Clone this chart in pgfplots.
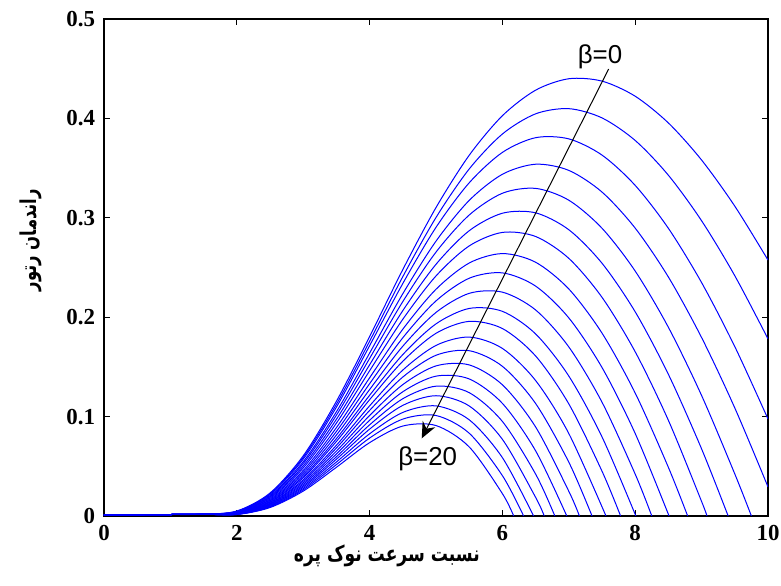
\documentclass[border=0pt]{standalone}
\usepackage{pgfplots}
\pgfplotsset{compat=1.18}
\usepackage{graphicx}
\usepackage{fontspec}
\usetikzlibrary{arrows.meta}
\setmainfont{Liberation Serif}
\newfontfamily\labelsans{Liberation Sans}
\newfontfamily\arabicfont[Script=Arabic]{DejaVu Sans}
\TeXXeTstate=1

\begin{document}
\begin{tikzpicture}
\path[use as bounding box] (-52bp,-35bp) rectangle (338.5bp,258bp);
\begin{axis}[
    scale only axis,
    width=332bp, height=248.5bp,
    xmin=0, xmax=10, ymin=0, ymax=0.5,
    xtick={0,2,4,6,8,10},
    ytick={0,0.1,0.2,0.3,0.4,0.5},
    tick align=inside,
    major tick length=3bp,
    tick style={black, line width=0.5bp},
    axis line style={line width=0.9bp},
    /pgf/number format/assume math mode=true,
    tick label style={font=\fontsize{11.5}{12}\selectfont\bfseries},
    xticklabel style={yshift=-1bp},
    yticklabel style={xshift=-1bp},
    xlabel={\scalebox{0.78}[1]{\arabicfont\bfseries\beginR نسبت سرعت نوک پره\endR}},
    ylabel={\scalebox{0.75}[1]{\arabicfont\bfseries\beginR راندمان رتور\endR}},
    label style={font=\fontsize{11}{12}\selectfont},
    xlabel style={at={(axis description cs:0.426,-0.0805)}, anchor=center},
    ylabel style={at={(axis description cs:-0.1099,0.555)}, anchor=center},
    cycle list={blue},
    every axis plot post/.append style={blue, solid, line width=0.5bp, smooth, no markers},
    clip=true,
]
% beta = 0 ... 20
\addplot coordinates {(0,0.001) (0.5,0.0012) (1,0.0015) (1.5,0.0018) (2,0.0050) (2.5,0.0231) (3,0.0605) (3.5,0.1154) (4,0.1805) (4.5,0.2479) (5,0.3103) (5.5,0.3629) (6,0.4027) (6.5,0.4284) (7,0.4399) (7.5,0.4375) (8,0.4223) (8.5,0.3954) (9,0.3581) (9.5,0.3117) (10,0.2575)};
\addplot coordinates {(0,0.001) (0.5,0.0012) (1,0.0015) (1.5,0.0018) (2,0.0048) (2.5,0.0223) (3,0.0589) (3.5,0.1124) (4,0.1758) (4.5,0.2408) (5,0.3003) (5.5,0.3491) (6,0.3843) (6.5,0.4046) (7,0.4098) (7.5,0.4005) (8,0.3778) (8.5,0.3428) (9,0.2970) (9.5,0.2417) (10,0.1782)};
\addplot coordinates {(0,0.001) (0.5,0.0012) (1,0.0015) (1.5,0.0018) (2,0.0046) (2.5,0.0216) (3,0.0572) (3.5,0.1095) (4,0.1713) (4.5,0.2339) (5,0.2904) (5.5,0.3352) (6,0.3658) (6.5,0.3806) (7,0.3794) (7.5,0.3631) (8,0.3326) (8.5,0.2894) (9,0.2348) (9.5,0.1704) (10,0.0976)};
\addplot coordinates {(0,0.001) (0.5,0.0012) (1,0.0015) (1.5,0.0018) (2,0.0043) (2.5,0.0205) (3,0.0546) (3.5,0.1048) (4,0.1639) (4.5,0.2236) (5,0.2765) (5.5,0.3175) (6,0.3438) (6.5,0.3539) (7,0.3477) (7.5,0.3259) (8,0.2896) (8.5,0.2404) (9,0.1795) (9.5,0.1087) (10,0.0293)};
\addplot coordinates {(0,0.001) (0.5,0.0012) (1,0.0015) (1.5,0.0018) (2,0.0041) (2.5,0.0196) (3,0.0527) (3.5,0.1014) (4,0.1585) (4.5,0.2157) (5,0.2655) (5.5,0.3028) (6,0.3247) (6.5,0.3296) (7,0.3177) (7.5,0.2895) (8,0.2464) (8.5,0.1898) (9,0.1212) (9.5,0.0423) (9.75,0)};
\addplot coordinates {(0,0.001) (0.5,0.0012) (1,0.0015) (1.5,0.0018) (2,0.0038) (2.5,0.0187) (3,0.0504) (3.5,0.0973) (4,0.1521) (4.5,0.2066) (5,0.2532) (5.5,0.2870) (6,0.3046) (6.5,0.3050) (7,0.2880) (7.5,0.2543) (8,0.2054) (8.5,0.1425) (9,0.0675) (9.40,0)};
\addplot coordinates {(0,0.001) (0.5,0.0012) (1,0.0015) (1.5,0.0018) (2,0.0036) (2.5,0.0178) (3,0.0483) (3.5,0.0934) (4,0.1461) (4.5,0.1979) (5,0.2415) (5.5,0.2717) (6,0.2853) (6.5,0.2812) (7,0.2592) (7.5,0.2200) (8,0.1652) (8.5,0.0962) (9,0.0146) (9.08,0)};
\addplot coordinates {(0,0.001) (0.5,0.0012) (1,0.0015) (1.5,0.0018) (2,0.0034) (2.5,0.0168) (3,0.0458) (3.5,0.0889) (4,0.1390) (4.5,0.1879) (5,0.2281) (5.5,0.2545) (6,0.2640) (6.5,0.2553) (7,0.2284) (7.5,0.1840) (8,0.1237) (8.5,0.0489) (8.79,0)};
\addplot coordinates {(0,0.001) (0.5,0.0012) (1,0.0015) (1.5,0.0018) (2,0.0032) (2.5,0.0159) (3,0.0438) (3.5,0.0851) (4,0.1331) (4.5,0.1793) (5,0.2164) (5.5,0.2392) (6,0.2446) (6.5,0.2313) (7,0.1993) (7.5,0.1494) (8,0.0830) (8.51,0)};
\addplot coordinates {(0,0.001) (0.5,0.0012) (1,0.0015) (1.5,0.0018) (2,0.0030) (2.5,0.0151) (3,0.0418) (3.5,0.0814) (4,0.1272) (4.5,0.1708) (5,0.2048) (5.5,0.2240) (6,0.2252) (6.5,0.2073) (7,0.1701) (7.5,0.1145) (8,0.0421) (8.25,0)};
\addplot coordinates {(0,0.001) (0.5,0.0012) (1,0.0015) (1.5,0.0018) (2,0.0028) (2.5,0.0143) (3,0.0399) (3.5,0.0778) (4,0.1214) (4.5,0.1624) (5,0.1933) (5.5,0.2088) (6,0.2059) (6.5,0.1832) (7,0.1408) (7.5,0.0796) (8.01,0)};
\addplot coordinates {(0,0.001) (0.5,0.0012) (1,0.0015) (1.5,0.0018) (2,0.0026) (2.5,0.0137) (3,0.0384) (3.5,0.0750) (4,0.1170) (4.5,0.1557) (5,0.1838) (5.5,0.1958) (6,0.1886) (6.5,0.1610) (7,0.1128) (7.5,0.0451) (7.78,0)};
\addplot coordinates {(0,0.001) (0.5,0.0012) (1,0.0015) (1.5,0.0018) (2,0.0025) (2.5,0.0129) (3,0.0364) (3.5,0.0712) (4,0.1108) (4.5,0.1468) (5,0.1716) (5.5,0.1800) (6,0.1686) (6.5,0.1363) (7,0.0830) (7.56,0)};
\addplot coordinates {(0,0.001) (0.5,0.0012) (1,0.0015) (1.5,0.0018) (2,0.0023) (2.5,0.0123) (3,0.0349) (3.5,0.0684) (4,0.1062) (4.5,0.1398) (5,0.1617) (5.5,0.1663) (6,0.1506) (6.5,0.1132) (7,0.0542) (7.35,0)};
\addplot coordinates {(0,0.001) (0.5,0.0012) (1,0.0015) (1.5,0.0018) (2,0.0022) (2.5,0.0117) (3,0.0333) (3.5,0.0653) (4,0.1011) (4.5,0.1322) (5,0.1510) (5.5,0.1520) (6,0.1320) (6.5,0.0896) (7,0.0249) (7.16,0)};
\addplot coordinates {(0,0.001) (0.5,0.0012) (1,0.0015) (1.5,0.0018) (2,0.0020) (2.5,0.0111) (3,0.0318) (3.5,0.0624) (4,0.0963) (4.5,0.1250) (5,0.1407) (5.5,0.1379) (6,0.1133) (6.5,0.0656) (6.97,0)};
\addplot coordinates {(0,0.001) (0.5,0.0012) (1,0.0015) (1.5,0.0018) (2,0.0019) (2.5,0.0106) (3,0.0303) (3.5,0.0596) (4,0.0917) (4.5,0.1180) (5,0.1306) (5.5,0.1241) (6,0.0951) (6.5,0.0422) (6.79,0)};
\addplot coordinates {(0,0.001) (0.5,0.0012) (1,0.0015) (1.5,0.0018) (2,0.0018) (2.5,0.0101) (3,0.0290) (3.5,0.0571) (4,0.0874) (4.5,0.1113) (5,0.1210) (5.5,0.1107) (6,0.0771) (6.5,0.0188) (6.63,0)};
\addplot coordinates {(0,0.001) (0.5,0.0012) (1,0.0015) (1.5,0.0018) (2,0.0017) (2.5,0.0095) (3,0.0276) (3.5,0.0543) (4,0.0827) (4.5,0.1042) (5,0.1108) (5.5,0.0968) (6,0.0587) (6.47,0)};
\addplot coordinates {(0,0.001) (0.5,0.0012) (1,0.0015) (1.5,0.0018) (2,0.0016) (2.5,0.0090) (3,0.0263) (3.5,0.0517) (4,0.0784) (4.5,0.0975) (5,0.1011) (5.5,0.0833) (6,0.0406) (6.32,0)};
\addplot coordinates {(0,0.001) (0.5,0.0012) (1,0.0015) (1.5,0.0018) (2,0.0015) (2.5,0.0085) (3,0.0250) (3.5,0.0490) (4,0.0738) (4.5,0.0905) (5,0.0910) (5.5,0.0695) (6,0.0225) (6.17,0)};

\draw[-{Stealth[length=8bp,width=7bp]}, line width=0.5bp, black]
    (axis cs:7.60,0.4497) -- (axis cs:4.785,0.0781);
\node[font=\labelsans\fontsize{13}{14}\selectfont] at (axis cs:7.47,0.462) {β=0};
\node[font=\labelsans\fontsize{13}{14}\selectfont] at (axis cs:4.875,0.058) {β=20};
\end{axis}
\end{tikzpicture}
\end{document}
